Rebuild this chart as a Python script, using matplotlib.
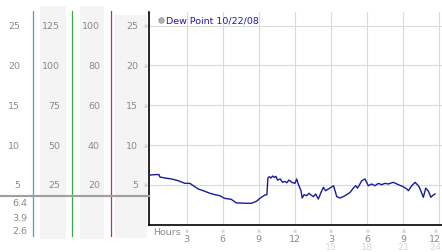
import matplotlib
matplotlib.use("Agg")
import matplotlib.pyplot as plt
from matplotlib.lines import Line2D
from matplotlib.patches import Rectangle

# ---------------- data ----------------
hours = [0.0, 0.4, 0.7, 0.77, 1.2, 1.75, 2.3, 2.86, 3.27, 3.55, 3.97, 4.38, 4.94, 5.35,
         5.75, 6.15, 6.7, 7.12, 7.6, 8.0, 8.37, 8.8, 9.2, 9.5, 9.67, 9.75, 9.88, 10.0,
         10.15, 10.28, 10.42, 10.55, 10.78, 10.97, 11.16, 11.33, 11.5, 11.73, 12.0, 12.14,
         12.28, 12.5, 12.6, 12.76, 12.97, 13.17, 13.33, 13.53, 13.72, 13.94, 14.17, 14.36,
         14.55, 14.77, 15.0, 15.2, 15.33, 15.47, 15.75, 16.0, 16.3, 16.58, 16.85, 17.05,
         17.2, 17.4, 17.55, 17.82, 18.1, 18.37, 18.65, 18.93, 19.2, 19.48, 19.76, 20.17,
         20.6, 21.0, 21.3, 21.43, 21.7, 21.98, 22.26, 22.4, 22.67, 22.87, 23.1, 23.3,
         23.42, 23.64]
dew = [6.25, 6.3, 6.3, 6.0, 5.87, 5.75, 5.53, 5.2, 5.2, 4.9, 4.49, 4.28, 3.95, 3.78,
       3.66, 3.32, 3.2, 2.75, 2.72, 2.7, 2.7, 2.95, 3.45, 3.73, 3.78, 5.87, 6.04, 5.87,
       6.12, 5.95, 6.08, 5.62, 5.75, 5.33, 5.45, 5.28, 5.62, 5.33, 5.2, 5.75,
       5.1, 4.28, 3.36, 3.78, 3.65, 3.95, 3.74, 3.53, 3.87, 3.24, 4.07, 4.7,
       4.28, 4.49, 4.7, 4.9, 4.28, 3.53, 3.36, 3.53, 3.78, 4.07, 4.6, 4.9,
       4.6, 5.12, 5.53, 5.75, 4.9, 5.12, 4.9, 5.2, 5.03, 5.2, 5.12, 5.33,
       5.03, 4.78, 4.49, 4.28, 4.9, 5.33, 4.9, 4.49, 3.45, 4.6, 4.2, 3.45,
       3.65, 3.87]

series_label = "Dew Point 10/22/08"
y_ticks = [5, 10, 15, 20, 25]
col_factors = [1, 5, 4, 1]
stats_labels = ["6.4", "3.9", "2.6"]
current_value = 3.65
x_ticks = [3, 6, 9, 12, 15, 18, 21, 24]
x_labels_top = ["3", "6", "9", "12", "3", "6", "9", "12"]
x_labels_bottom = ["", "", "", "", "15", "18", "21", "24"]

# ---------------- layout ----------------
W, H = 442, 253
fig = plt.figure(figsize=(W / 100, H / 100), dpi=100)

ax_left_px, ax_top_px, ax_bot_px = 149, 13, 225.8
ymax = 26.7
xmin, xmax = -0.13, 24.22

ax = fig.add_axes([ax_left_px / W, (H - ax_bot_px) / H,
                   (W - ax_left_px) / W, (ax_bot_px - ax_top_px) / H])
ax.set_xlim(xmin, xmax)
ax.set_ylim(0, ymax)

grid_c = "#d9d9d9"
for yv in y_ticks:
    ax.axhline(yv, color=grid_c, lw=0.8, zorder=1)
for xv in x_ticks:
    ax.axvline(xv, color=grid_c, lw=0.8, zorder=1)

ax.plot(hours, dew, color="#1a1a9c", lw=1.0, zorder=3)

for s in ["top", "right"]:
    ax.spines[s].set_visible(False)
ax.spines["left"].set_color("black")
ax.spines["left"].set_linewidth(1.2)
ax.spines["bottom"].set_color("black")
ax.spines["bottom"].set_linewidth(1.2)
ax.set_xticks([])
ax.set_yticks([])

# legend
ax.plot([0.85], [25.9 - 0.15], marker="o", ms=4, mfc="#b0b0b0", mec="#909090",
        mew=0.5, clip_on=False, zorder=4)
ax.text(1.25, 25.75, series_label, color="#1c1caa", fontsize=6.8,
        va="center", ha="left", family="DejaVu Sans")

# x labels
ax.text(0.2, -0.8, "Hours", color="#8a8a8a", fontsize=6.8, ha="left", va="center")
for xv, lt, lb in zip(x_ticks, x_labels_top, x_labels_bottom):
    xpos = min(xv, 23.65)
    ax.text(xpos, -0.7, "※", color="#b0b0b0", fontsize=3.5, ha="center", va="center")
    ax.text(xpos, -1.7, lt, color="#8a8a8a", fontsize=6.8, ha="center", va="center")
    if lb:
        ax.text(xpos, -2.75, lb, color="#d8d8d8", fontsize=6.8, ha="center", va="center")

# ---------------- left panels ----------------
lp = fig.add_axes([0, (H - ax_bot_px) / H, ax_left_px / W, (ax_bot_px - ax_top_px) / H])
lp.set_xlim(0, ax_left_px)
lp.set_ylim(0, ymax)
lp.axis("off")

def py(ypix):
    return (ax_bot_px - ypix) / (ax_bot_px - ax_top_px) * ymax

band_c = "#f4f4f4"
for x0, x1, y0, y1 in [(40, 66, 7, 240), (80, 104, 7, 240), (115, 147, 16, 239)]:
    lp.add_patch(Rectangle((x0, py(y1)), x1 - x0, py(y0) - py(y1), color=band_c,
                           lw=0, clip_on=False, zorder=0))

for xl, c in [(33, "#3aa6c8"), (72, "#3aa84a"), (111, "#b83a3a")]:
    lp.add_line(Line2D([xl, xl], [py(12), py(237)], color=c, lw=0.9,
                       clip_on=False, zorder=2))

col_right = [20, 60, 100, 138]
for cx, f in zip(col_right, col_factors):
    for yv in y_ticks:
        lp.text(cx, yv, str(yv * f), color="#8a8a8a", fontsize=6.8,
                ha="right", va="center")
for yv in y_ticks:
    lp.text(146, yv, "※", color="#b0b0b0", fontsize=3.5, ha="center", va="center")

lp.add_line(Line2D([0, ax_left_px], [current_value, current_value], color="#a0a0a0",
                   lw=1.6, clip_on=False, zorder=3))

for lbl, ypix in zip(stats_labels, [204, 218.5, 232]):
    lp.text(27, py(ypix), lbl, color="#8a8a8a", fontsize=6.8, ha="right", va="center")

fig.savefig("out.png", dpi=100)
